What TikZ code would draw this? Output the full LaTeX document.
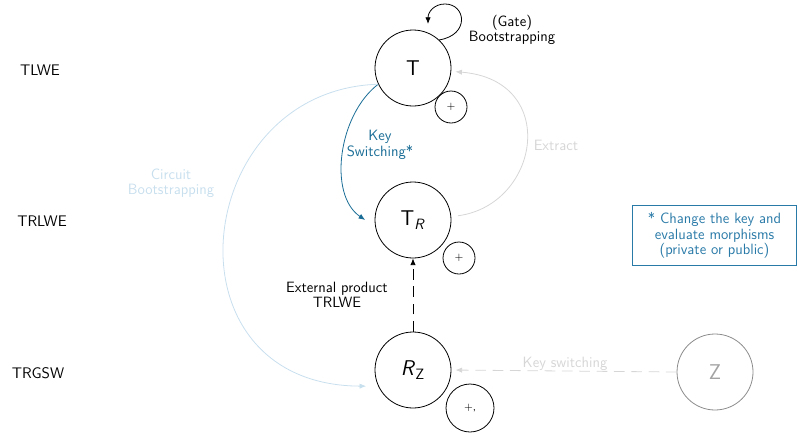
\documentclass[tikz,border=0pt]{standalone}
\usetikzlibrary{arrows.meta,calc}
\definecolor{ksblue}{HTML}{1A6D96}
\definecolor{boxblue}{HTML}{2A7AA8}
\definecolor{cblue}{HTML}{C8DFEE}
\definecolor{exgray}{HTML}{D6D6D6}
\definecolor{zgray}{HTML}{8C8C8C}
\begin{document}
\begin{tikzpicture}[x=0.75pt,y=-0.75pt,font=\sffamily,
  big/.style={circle,draw,line width=0.6pt,minimum size=57pt,inner sep=0pt,font=\sffamily\fontsize{16}{18}\selectfont},
  small/.style={circle,draw,line width=0.6pt,minimum size=24pt,inner sep=0pt,font=\sffamily\footnotesize},
  lab/.style={align=center,font=\sffamily\fontsize{11.2}{11.6}\selectfont},
  tip/.style={-{Latex[length=5pt,width=4pt]}},
  level/.style={font=\sffamily\fontsize{11.5}{12}\selectfont}]
\useasboundingbox (0,0) rectangle (798,432);
% level labels
\node[level] (l1) at (40,70) {TLWE};
\node[level] (l2) at (42,221) {TRLWE};
\node[level] (l3) at (38,373) {TRGSW};
% main nodes
\node[big] (T) at (413,68) {T};
\node[big] (TR) at (413,220) {T\textsubscript{\textit{R}}};
\node[big] (RZ) at (413,370) {\textit{R}\textsubscript{Z}};
\node[big,draw=zgray,text=zgray!80] (Z) at (715,372) {Z};
\node[small] (p1) at (451,107) {+};
\node[small] (p2) at (459,258) {+};
\node[small,minimum size=36pt] (p3) at (470,408) {+,};
% gate bootstrapping loop
\coordinate (g1) at (445,4);
\draw[tip,line width=0.6pt] (T.47) .. controls (470,35) and (466,4) .. (g1) .. controls (434,4) and (428,12) .. (428,24);
\node[lab] (gate) at (512,30) {(Gate)\\Bootstrapping};
% key switching
\draw[tip,ksblue,line width=0.6pt,shorten >=9pt] (T.205) .. controls (338,115) and (328,195) .. (TR.190);
\node[lab,text=ksblue] (ksl) at (380,145) {Key\\Switching*};
% circuit bootstrapping
\draw[tip,cblue,line width=0.6pt,shorten >=9pt] (T.205) .. controls (190,90) and (160,385) .. (RZ.205);
\node[lab,text=cblue] (cbl) at (171,183) {Circuit\\Bootstrapping};
% extract
\draw[tip,exgray,line width=0.6pt,shorten <=5pt,shorten >=3pt] (TR.5) .. controls (540,205) and (560,80) .. (T.355);
\node[lab,text=exgray] (exl) at (556,145) {Extract};
% external product
\draw[tip,dashed,dash pattern=on 8pt off 5pt,line width=0.6pt] (RZ.north) -- (TR.south);
\node[lab] (epl) at (337,295) {External product\\TRLWE};
% key switching Z -> RZ
\draw[tip,exgray,dashed,dash pattern=on 8pt off 5pt,line width=0.6pt,shorten >=3pt] (Z.west) -- (RZ.east);
\node[lab,text=exgray] (ksz) at (565,364) {Key switching};
% note box
\node[draw=boxblue,text=boxblue,line width=0.6pt,align=center,font=\sffamily\fontsize{11.2}{11.6}\selectfont,
  minimum width=123pt,minimum height=45pt,inner sep=2pt] (box) at (714.5,235.5)
  {* Change the key and\\evaluate morphisms\\(private or public)};
\end{tikzpicture}
\end{document}
